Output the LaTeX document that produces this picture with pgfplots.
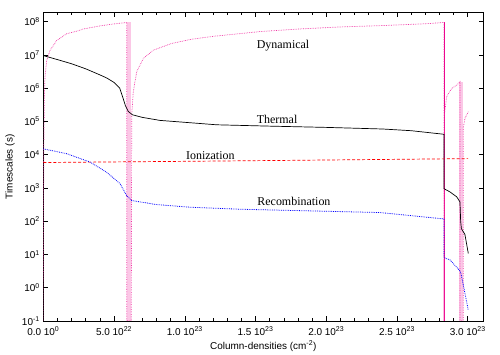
\documentclass[border=0pt]{standalone}
\usepackage{fontspec}
\setmainfont{Liberation Sans}
\newfontfamily\timesfont{Liberation Serif}
\usepackage{pgfplots}
\pgfplotsset{compat=1.18}

% x values are column densities in units of 1e22 cm^-2
\begin{document}
\begin{tikzpicture}
\begin{axis}[
    scale only axis,
    width=440bp, height=308.3bp,
    xmin=0, xmax=31.1,
    ymode=log, ymin=0.1, ymax=1.85e8,
    axis line style={line width=0.6pt},
    tick align=inside, tick pos=both,
    major tick length=4.5bp, minor tick length=2.5bp,
    tick style={line width=0.5pt, black},
    xtick={0,5,10,15,20,25,30},
    xticklabels={0.0 10\textsuperscript{0}, 5.0 10\textsuperscript{22}, 1.0 10\textsuperscript{23},
      1.5 10\textsuperscript{23}, 2.0 10\textsuperscript{23}, 2.5 10\textsuperscript{23}, 3.0 10\textsuperscript{23}},
    minor x tick num=4,
    ytick={0.1,1,10,100,1000,1e4,1e5,1e6,1e7,1e8},
    yticklabels={10\textsuperscript{-1},10\textsuperscript{0},10\textsuperscript{1},10\textsuperscript{2},
      10\textsuperscript{3},10\textsuperscript{4},10\textsuperscript{5},10\textsuperscript{6},
      10\textsuperscript{7},10\textsuperscript{8}},
    yminorticks=false,
    tick label style={font=\fontsize{10}{12}\selectfont},
    xticklabel style={yshift=-2bp},
    xlabel={Column-densities (cm\textsuperscript{-2})},
    ylabel={Timescales (s)},
    label style={font=\fontsize{10}{12}\selectfont},
    xlabel style={at={(axis description cs:0.5,-0.081)}, anchor=center},
    ylabel style={at={(axis description cs:-0.0757,0.5)}, anchor=center},
  ]
  % dense oscillation bands
  \addplot[magenta!22, line width=4.2bp] coordinates {(6.07,0.1)(6.07,9.4e7)};
  \addplot[magenta!22, line width=3.8bp] coordinates {(29.54,0.1)(29.54,1.5e6)};
  \addplot[magenta, line width=0.7pt] coordinates {(28.32,0.1)(28.32,9.4e7)};

  % Dynamical
  \addplot[magenta!80, densely dotted, line width=0.7pt] coordinates {
    (0,0.1)(0.03,1e4)(0.08,6e5)(0.12,2.2e6)(0.24,6.8e6)(0.47,1.35e7)(0.95,2.7e7)
    (1.65,4.3e7)(2.47,5.3e7)(2.83,6.0e7)(4.0,7.4e7)(5.0,8.5e7)(5.9,9.4e7)(5.9,0.1)
    (6.22,0.1)(6.25,1.55e5)(6.36,7.8e5)(6.60,3.1e6)(7.07,7.8e6)(7.77,1.38e7)(9.07,2.2e7)
    (10.48,2.95e7)(12.0,3.6e7)(15.3,5.0e7)(18.1,6.0e7)(21.0,6.9e7)(24.0,7.6e7)
    (27.0,8.6e7)(28.32,9.4e7)(28.32,0.1)
    (28.35,1.55e5)(28.51,5.5e5)(28.86,9.8e5)(29.22,1.23e6)(29.45,1.55e6)(29.45,0.1)
    (29.68,0.1)(29.68,6.2e4)(29.80,1.23e5)(30.04,1.95e5)
  };
  % Thermal
  \addplot[black, line width=0.7pt] coordinates {
    (0,9.5e6)(1,7.2e6)(2,5.4e6)(3,3.8e6)(4,2.5e6)(4.5,2.0e6)(5.0,1.48e6)(5.4,1.0e6)
    (5.6,5.6e5)(5.8,3.0e5)(6.0,2.0e5)(6.3,1.58e5)(7,1.32e5)(8.25,1.07e5)(10.4,9.1e4)
    (12.25,7.9e4)(16,7.2e4)(20,6.6e4)(24,5.9e4)(26,5.25e4)(28.32,4.1e4)
    (28.32,950)(28.74,760)(29.22,540)(29.45,380)(29.5,100)(29.55,60)(29.8,40)(30.04,10.7)
  };
  % Ionization
  \addplot[red, dash pattern=on 3pt off 2pt, line width=0.7pt] coordinates {
    (0,5.8e3)(10,6.3e3)(20,6.9e3)(30.02,7.6e3)
  };
  % Recombination
  \addplot[blue, densely dotted, line width=0.8pt] coordinates {
    (0,1.5e4)(1.65,1.07e4)(3.30,6.0e3)(4.48,2.95e3)(5.42,1.35e3)(5.89,590)(6.25,417)
    (8.01,316)(10.37,263)(13.9,229)(23.79,182)(28.32,117)
    (28.32,8)(28.74,6.9)(29.45,3.2)(29.52,2.7)(29.8,0.69)(30.04,0.21)
  };

  \node[font=\timesfont\fontsize{12}{14}\selectfont, anchor=west, inner sep=0pt] at (axis cs:15.08,1.95e7) {Dynamical};
  \node[font=\timesfont\fontsize{12}{14}\selectfont, anchor=west, inner sep=0pt] at (axis cs:15.08,1.17e5) {Thermal};
  \node[font=\timesfont\fontsize{12}{14}\selectfont, anchor=west, inner sep=0pt] at (axis cs:10.08,9.5e3) {Ionization};
  \node[font=\timesfont\fontsize{12}{14}\selectfont, anchor=west, inner sep=0pt] at (axis cs:15.12,380) {Recombination};
\end{axis}
\path ([shift={(-43.3bp,-29bp)}]current axis.south west) rectangle ([shift={(16.7bp,12.7bp)}]current axis.north east);
\end{tikzpicture}
\end{document}
